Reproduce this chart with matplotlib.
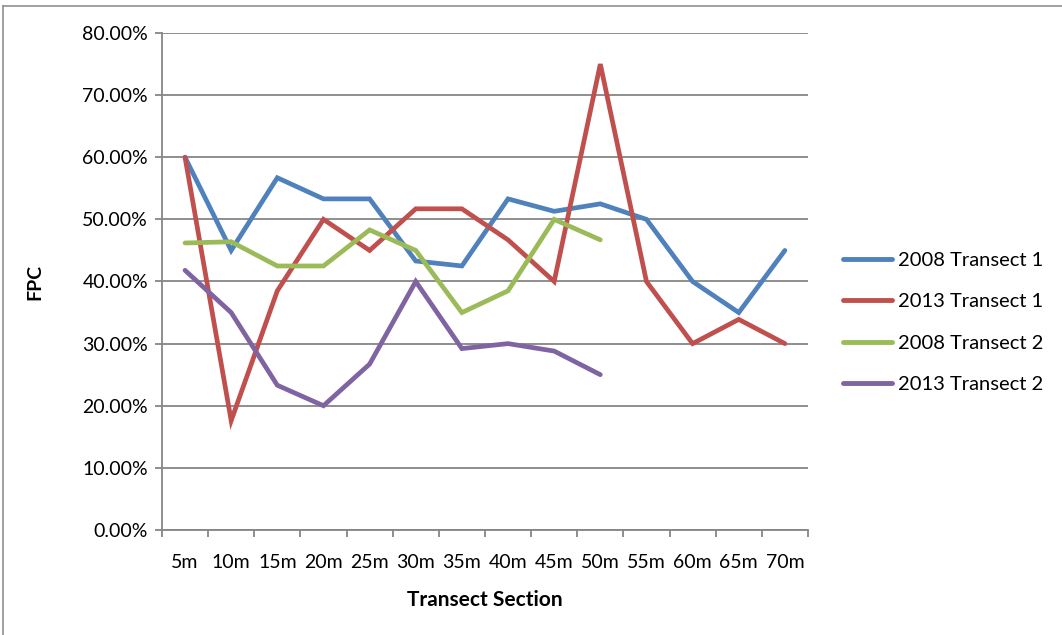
import numpy as np
import matplotlib
matplotlib.use("Agg")
import matplotlib.pyplot as plt
from matplotlib.lines import Line2D

plt.rcParams['font.family'] = ['Lato', 'DejaVu Sans']

sections = ["5m", "10m", "15m", "20m", "25m", "30m", "35m",
            "40m", "45m", "50m", "55m", "60m", "65m", "70m"]
t1_2008 = [60.0, 45.0, 56.7, 53.3, 53.3, 43.3, 42.5, 53.3, 51.3, 52.5, 50.0, 40.0, 35.0, 45.0]
t1_2013 = [60.0, 17.6, 38.5, 50.0, 45.0, 51.7, 51.7, 46.7, 40.0, 75.0, 40.0, 30.0, 33.9, 30.0]
t2_2008 = [46.2, 46.4, 42.5, 42.5, 48.3, 45.0, 35.0, 38.5, 50.0, 46.7]
t2_2013 = [41.8, 35.0, 23.3, 20.0, 26.7, 40.0, 29.2, 30.0, 28.8, 25.0]

series = [("2008 Transect 1", t1_2008, "#4F81BD"),
          ("2013 Transect 1", t1_2013, "#C0504D"),
          ("2008 Transect 2", t2_2008, "#9BBB59"),
          ("2013 Transect 2", t2_2013, "#8064A2")]

fig = plt.figure(figsize=(10.62, 6.35), dpi=100)
ax = fig.add_axes([0.1525, 0.1654, 0.6083, 0.7826])

grid_c = "#868686"
for name, vals, col in series:
    x = np.arange(len(vals)) + 0.5
    ax.plot(x, np.array(vals) / 100, color=col, lw=3.4, label=name,
            solid_joinstyle="miter", solid_capstyle="round")

ax.set_xlim(0, len(sections))
ax.set_ylim(0, 0.8)
ax.set_yticks(np.arange(0, 0.81, 0.1))
ax.set_yticklabels([f"{v * 100:.2f}%" for v in np.arange(0, 0.81, 0.1)], fontsize=14)
ax.yaxis.grid(True, color=grid_c, lw=1.3)
ax.set_axisbelow(True)

ax.set_xticks(np.arange(0, len(sections) + 1))
ax.set_xticklabels([])
ax.set_xticks(np.arange(len(sections)) + 0.5, minor=True)
ax.set_xticklabels(sections, minor=True, fontsize=14)
ax.tick_params(axis="x", which="major", length=5, color=grid_c, width=1.3)
ax.tick_params(axis="x", which="minor", length=0, pad=17)
ax.tick_params(axis="y", length=5, color=grid_c, width=1.3, pad=5)

for s in ["top", "right"]:
    ax.spines[s].set_visible(False)
for s in ["left", "bottom"]:
    ax.spines[s].set_color(grid_c)
    ax.spines[s].set_linewidth(1.3)

ax.set_xlabel("Transect Section", fontsize=15, fontweight="bold", labelpad=14)
ax.set_ylabel("FPC", fontsize=14, fontweight="bold", labelpad=28)

handles = [Line2D([0], [0], color=c, lw=3.5, solid_capstyle="round") for _, _, c in series]
fig.legend(handles, [n for n, _, _ in series], loc="center left",
           bbox_to_anchor=(843 / 1062, 0.492), frameon=False, fontsize=14.5,
           handlelength=2.45, labelspacing=1.2, handletextpad=0.3, borderpad=0,
           borderaxespad=0)

# outer chart border
fig.add_artist(Line2D([3 / 1062, 3 / 1062], [0, 1 - 6 / 635], color="#909090", lw=1.2))
fig.add_artist(Line2D([3 / 1062, 1], [1 - 6 / 635, 1 - 6 / 635], color="#909090", lw=1.2))

fig.savefig("out.png", dpi=100)
